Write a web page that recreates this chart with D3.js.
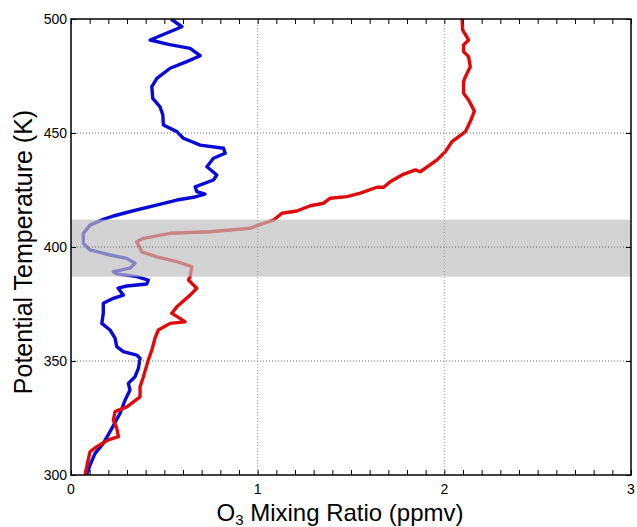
<!DOCTYPE html>
<html>
<head>
<meta charset="utf-8">
<script src="https://cdn.jsdelivr.net/npm/d3@7"></script>
<style>
  body { margin: 0; background: #fff; }
  text { font-family: "Liberation Sans", Arial, sans-serif; }
</style>
</head>
<body>
<svg id="chart"></svg>
<script>
const width = 637;
const height = 527;
const margin = {top: 19, right: 6, bottom: 52, left: 71};

// blue profile: [O3 ppmv, theta K]
const blueO3 = [0.536,0.594,0.424,0.522,0.638,0.692,0.620,0.531,0.460,0.433,0.438,0.477,0.492,0.495,0.567,0.602,0.692,0.817,0.826,0.763,0.728,0.781,0.763,0.665,0.674,0.718,0.656,0.567,0.441,0.334,0.227,0.173,0.102,0.066,0.066,0.102,0.209,0.299,0.343,0.316,0.227,0.245,0.352,0.414,0.406,0.299,0.252,0.280,0.227,0.173,0.173,0.165,0.209,0.236,0.245,0.280,0.352,0.370,0.361,0.343,0.307,0.316,0.290,0.263,0.209,0.173,0.129,0.102,0.084];
const blueTheta = [500,496.6,490.8,488.9,487.1,483.9,481.3,478.4,474.0,470.3,465.2,461.5,457.9,453.5,450.6,447.7,444.7,443.3,441.1,438.9,435.2,431.6,429.4,426.4,424.3,423.2,421.8,420.6,418.0,415.9,413.6,412.1,409.6,406.0,401.6,398.7,396.5,395.0,392.9,390.7,389.2,388.2,387.0,385.5,383.8,382.9,382.0,378.9,377.5,375.3,370.9,366.5,363.6,360.0,356.3,354.1,352.6,351.2,346.8,343.1,340.2,337.3,332.9,327.1,319.0,313.9,309.5,304.4,300];

// red profile
const redO3 = [2.095,2.098,2.130,2.103,2.103,2.130,2.139,2.113,2.103,2.103,2.130,2.161,2.139,2.113,2.077,2.041,2.005,1.961,1.871,1.845,1.773,1.710,1.675,1.639,1.550,1.478,1.389,1.353,1.282,1.210,1.130,1.085,1.031,0.960,0.745,0.531,0.388,0.352,0.379,0.460,0.567,0.647,0.638,0.629,0.674,0.638,0.567,0.540,0.584,0.611,0.531,0.468,0.450,0.433,0.414,0.388,0.370,0.370,0.299,0.236,0.227,0.245,0.254,0.200,0.138,0.102,0.084,0.075];
const redTheta = [500,495.2,490.8,488.6,485.7,483.5,479.1,474.7,472.5,467.4,464.5,459.6,455.0,450.6,448.4,446.2,441.8,438.2,433.0,433.8,431.6,428.6,426.2,426.2,423.6,422.1,421.4,419.2,418.1,415.8,414.8,411.8,410.4,408.2,406.7,406.0,403.8,402.3,397.9,395.7,393.6,391.4,387.0,385.5,381.9,378.9,373.8,370.9,368.7,367.2,366.5,363.6,360.0,354.8,350.4,343.1,338.7,334.3,329.9,327.8,324.1,320.5,316.8,315.4,312.4,310.2,303.6,300];

const band = [387, 412];
const xTicks = [0, 1, 2, 3];
const yTicks = [300, 350, 400, 450, 500];
const xGrid = [1, 2];
const yGrid = [350, 400, 450];

const svg = d3.select("#chart").attr("width", width).attr("height", height);
const w = width - margin.left - margin.right;
const h = height - margin.top - margin.bottom;

const x = d3.scaleLinear().domain([0, 3]).range([margin.left, margin.left + w]);
const y = d3.scaleLinear().domain([300, 500]).range([margin.top + h, margin.top]);

svg.append("defs").append("clipPath").attr("id", "clip")
  .append("rect").attr("x", margin.left).attr("y", margin.top).attr("width", w).attr("height", h);

const plot = svg.append("g").attr("clip-path", "url(#clip)");

const line = d3.line().x(d => x(d[0])).y(d => y(d[1]));

plot.append("path")
  .datum(blueO3.map((v, i) => [v, blueTheta[i]]))
  .attr("d", line).attr("fill", "none")
  .attr("stroke", "#0a0ad8").attr("stroke-width", 3.4).attr("stroke-linejoin", "round");

plot.append("path")
  .datum(redO3.map((v, i) => [v, redTheta[i]]))
  .attr("d", line).attr("fill", "none")
  .attr("stroke", "#e00a0a").attr("stroke-width", 3.4).attr("stroke-linejoin", "round");

// shaded layer
plot.append("rect")
  .attr("x", margin.left).attr("width", w)
  .attr("y", y(band[1])).attr("height", y(band[0]) - y(band[1]))
  .attr("fill", "#bebebe").attr("fill-opacity", 0.68);

// grid
plot.selectAll(".xg").data(xGrid).enter().append("line")
  .attr("x1", d => x(d)).attr("x2", d => x(d))
  .attr("y1", margin.top).attr("y2", margin.top + h)
  .attr("stroke", "#999").attr("stroke-width", 1).attr("stroke-dasharray", "1,2");
plot.selectAll(".yg").data(yGrid).enter().append("line")
  .attr("y1", d => y(d)).attr("y2", d => y(d))
  .attr("x1", margin.left).attr("x2", margin.left + w)
  .attr("stroke", "#666").attr("stroke-width", 1).attr("stroke-dasharray", "1,2");

// axes, ticks point inward
const minor = d3.range(0, 3.001, 0.1);
svg.append("g").attr("transform", "translate(0," + (margin.top + h) + ")")
  .call(d3.axisTop(x).tickValues(minor).tickSize(5).tickFormat(""))
  .call(g => g.select(".domain").remove());
svg.append("g").attr("transform", "translate(0," + margin.top + ")")
  .call(d3.axisBottom(x).tickValues(minor).tickSize(5).tickFormat(""))
  .call(g => g.select(".domain").remove());
svg.append("g").attr("transform", "translate(" + margin.left + ",0)")
  .call(d3.axisRight(y).tickValues(yTicks).tickSize(5).tickFormat(""))
  .call(g => g.select(".domain").remove());
svg.append("g").attr("transform", "translate(" + (margin.left + w) + ",0)")
  .call(d3.axisLeft(y).tickValues(yTicks).tickSize(5).tickFormat(""))
  .call(g => g.select(".domain").remove());

svg.append("rect")
  .attr("x", margin.left).attr("y", margin.top).attr("width", w).attr("height", h)
  .attr("fill", "none").attr("stroke", "#000").attr("stroke-width", 1.5);

// tick labels
svg.selectAll(".xl").data(xTicks).enter().append("text")
  .attr("x", d => x(d)).attr("y", margin.top + h + 19)
  .attr("text-anchor", "middle").attr("font-size", 14).text(d => d);
svg.selectAll(".yl").data(yTicks).enter().append("text")
  .attr("x", margin.left - 4).attr("y", d => y(d) + 5)
  .attr("text-anchor", "end").attr("font-size", 14).text(d => d);

// titles
svg.append("text")
  .attr("transform", "translate(32," + (margin.top + h / 2 + 5) + ") rotate(-90)")
  .attr("text-anchor", "middle").attr("font-size", 25)
  .text("Potential Temperature (K)");

const xt = svg.append("text")
  .attr("x", 340).attr("y", 521)
  .attr("text-anchor", "middle").attr("font-size", 24);
xt.append("tspan").text("O");
xt.append("tspan").attr("font-size", 15).attr("dy", 4).text("3");
xt.append("tspan").attr("dy", -4).text(" Mixing Ratio (ppmv)");
</script>
</body>
</html>
